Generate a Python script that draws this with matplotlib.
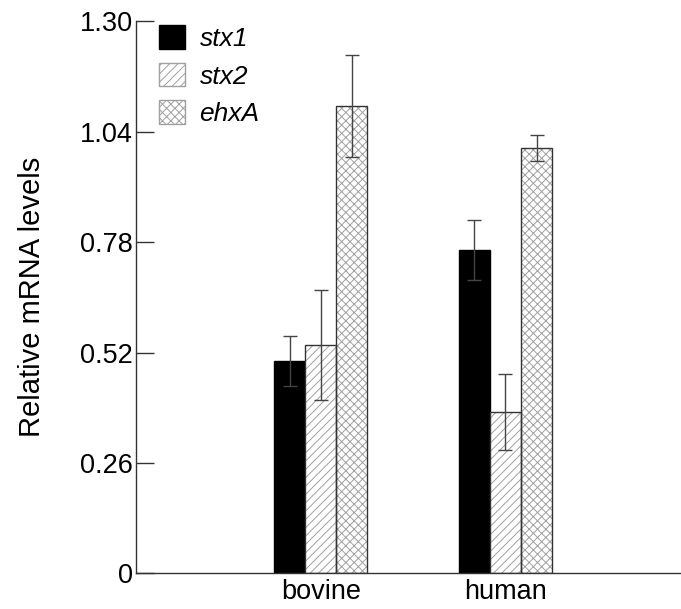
import numpy as np
import matplotlib.pyplot as plt
from matplotlib.patches import Patch

plt.rcParams['font.family'] = ['Liberation Sans', 'DejaVu Sans']
plt.rcParams['hatch.linewidth'] = 0.7

# data
groups = ['bovine', 'human']
genes = ['stx1', 'stx2', 'ehxA']
stx1 = [0.500, 0.761]
stx1_err = [0.059, 0.071]
stx2 = [0.538, 0.380]
stx2_err = [0.130, 0.090]
ehxA = [1.100, 1.001]
ehxA_err = [0.120, 0.031]

yticks = [0, 0.26, 0.52, 0.78, 1.04, 1.30]
ytick_labels = ['0', '0.26', '0.52', '0.78', '1.04', '1.30']

fig = plt.figure(figsize=(6.81, 6.09), dpi=100)
ax = fig.add_axes([0.1997, 0.0583, 0.8003, 0.9072])

x = np.arange(1, len(groups) + 1)
w = 0.168
edge = '#333333'
hatch_col = '#a0a0a0'
err_kw = dict(ecolor='#444444', elinewidth=1.0, capsize=5, capthick=1.0)

ax.bar(x - w, stx1, w, color='black', edgecolor='black', linewidth=1.0,
       yerr=stx1_err, error_kw=err_kw, zorder=2)

# hatched bars: hatch in light grey, outline drawn on top in dark grey
ax.bar(x, stx2, w, color='white', edgecolor=hatch_col, hatch='////', linewidth=0, zorder=2)
ax.bar(x, stx2, w, fill=False, edgecolor=edge, linewidth=1.0,
       yerr=stx2_err, error_kw=err_kw, zorder=3)
ax.bar(x + w, ehxA, w, color='white', edgecolor=hatch_col, hatch='xxxx', linewidth=0, zorder=2)
ax.bar(x + w, ehxA, w, fill=False, edgecolor=edge, linewidth=1.0,
       yerr=ehxA_err, error_kw=err_kw, zorder=3)

ax.set_xlim(0, 2.95)
ax.set_ylim(0, 1.30)
ax.set_yticks(yticks)
ax.set_yticklabels(ytick_labels)
ax.set_xticks(x)
ax.set_xticklabels(groups)
ax.tick_params(axis='y', direction='in', length=13, width=1.0, labelsize=19.5, pad=2,
               color='#333333')
ax.tick_params(axis='x', length=0, labelsize=19.5, pad=4)

for s in ['top', 'right']:
    ax.spines[s].set_visible(False)
for s in ['left', 'bottom']:
    ax.spines[s].set_color('#333333')
    ax.spines[s].set_linewidth(1.0)

ax.set_ylabel('Relative mRNA levels', fontsize=21)
ax.yaxis.set_label_coords(-0.165, 0.5)

handles = [
    Patch(facecolor='black', edgecolor='black'),
    Patch(facecolor='white', edgecolor=hatch_col, hatch='////'),
    Patch(facecolor='white', edgecolor=hatch_col, hatch='xxxx'),
]
leg = ax.legend(handles, genes, loc='upper left', bbox_to_anchor=(0.022, 1.012),
                frameon=False, fontsize=19, handlelength=1.0, handleheight=1.0,
                handletextpad=0.55, labelspacing=0.45, borderaxespad=0)
for t in leg.get_texts():
    t.set_fontstyle('italic')

fig.savefig('out.png', dpi=100)
